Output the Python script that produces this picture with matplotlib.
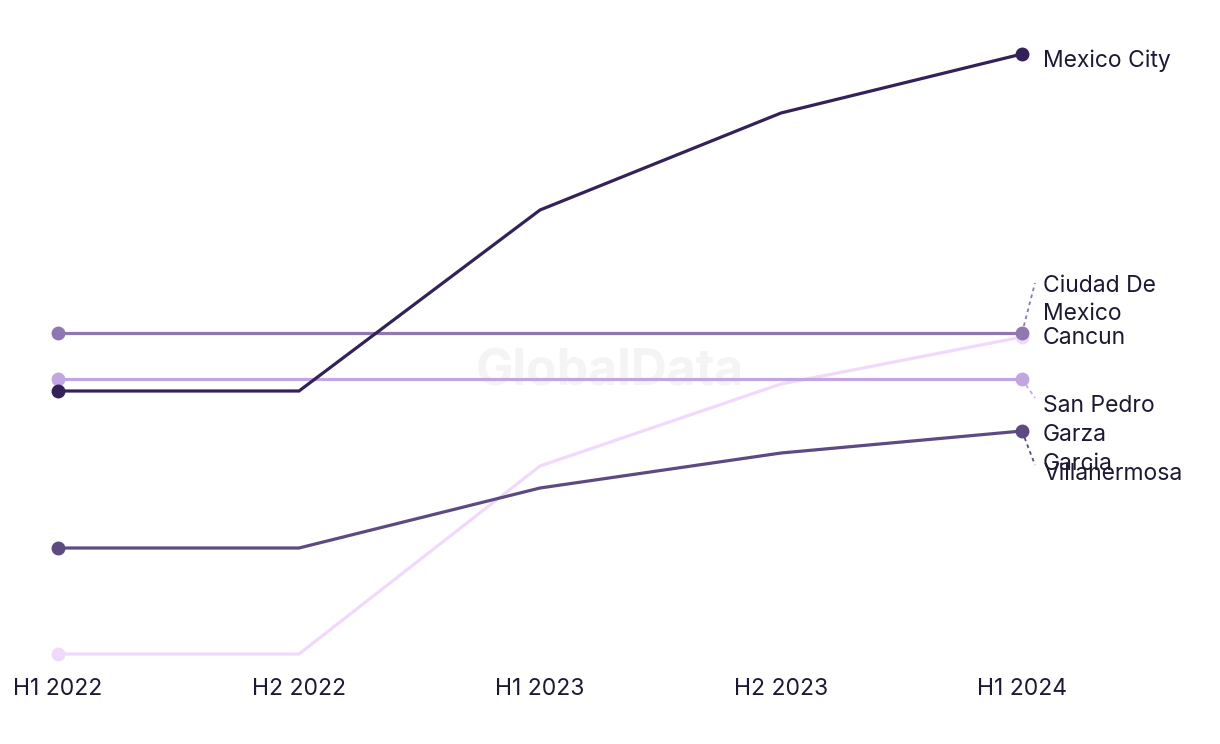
import matplotlib
matplotlib.use("Agg")
import matplotlib.pyplot as plt

periods = ["H1 2022", "H2 2022", "H1 2023", "H2 2023", "H1 2024"]
series_names = ["Ciudad De Mexico", "San Pedro Garza Garcia", "Villahermosa", "Cancun", "Mexico City"]
mexico_city = [30.9, 30.9, 49.0, 58.7, 64.6]
ciudad_de_mexico = [36.7, 36.7, 36.7, 36.7, 36.7]
san_pedro = [32.1, 32.1, 32.1, 32.1, 32.1]
villahermosa = [15.2, 15.2, 21.2, 24.7, 26.9]
cancun = [4.6, 4.6, 23.4, 31.6, 36.3]

values = {
    "Cancun": cancun,
    "Villahermosa": villahermosa,
    "San Pedro Garza Garcia": san_pedro,
    "Ciudad De Mexico": ciudad_de_mexico,
    "Mexico City": mexico_city,
}
colors = {
    "Mexico City": "#35215a",
    "Ciudad De Mexico": "#8f78b2",
    "San Pedro Garza Garcia": "#c2a6e2",
    "Villahermosa": "#5e4a82",
    "Cancun": "#f1d9fb",
}
labels = {
    "Mexico City": ("Mexico City", 61),
    "Ciudad De Mexico": ("Ciudad De\nMexico", 300),
    "Cancun": ("Cancun", 338),
    "San Pedro Garza Garcia": ("San Pedro\nGarza\nGarcia", 435),
    "Villahermosa": ("Villahermosa", 474),
}
leaders = {
    "Ciudad De Mexico": 283,
    "San Pedro Garza Garcia": 398,
    "Villahermosa": 465,
}

FONT = ["Inter", "DejaVu Sans"]
FS = 16.5
W, H = 1220, 744
fig = plt.figure(figsize=(W / 100, H / 100), dpi=100)
x0, dx = 58, 241
ax_left_px, ax_right_px = 0, W
ax_top_px, ax_bot_px = 44, 664
ax = fig.add_axes([ax_left_px / W, (H - ax_bot_px) / H, (ax_right_px - ax_left_px) / W, (ax_bot_px - ax_top_px) / H])
ax.set_xlim((ax_left_px - x0) / dx, (ax_right_px - x0) / dx)
ax.set_ylim((700 - ax_bot_px) / 10, (700 - ax_top_px) / 10)
for s in ax.spines.values():
    s.set_visible(False)
ax.set_yticks([])
xs = list(range(len(periods)))
ax.set_xticks(xs)
ax.set_xticklabels(periods, fontsize=FS, color="#1c1a33", family=FONT)
ax.tick_params(axis="x", length=0, pad=10)

ax.text(0.5, (H - 372) / H, "GlobalData", transform=fig.transFigure, ha="center", va="center",
        fontsize=36, fontweight="bold", color="#f4f4f4", family=FONT, zorder=0)

for name in ["Cancun", "Villahermosa", "San Pedro Garza Garcia", "Ciudad De Mexico", "Mexico City"]:
    v = values[name]
    ax.plot(xs, v, color=colors[name], lw=2.3, solid_joinstyle="miter", zorder=2)
    ax.plot([xs[0], xs[-1]], [v[0], v[-1]], "o", color=colors[name], ms=9, zorder=3)

def px_to_y(py):
    return (700 - py) / 10

lx = (1043 - x0) / dx
for name, (txt, py) in labels.items():
    ax.text(lx, px_to_y(py), txt, ha="left", va="center", fontsize=FS, color="#1c1a33",
            linespacing=1.4, family=FONT, clip_on=False)

for name, py in leaders.items():
    v = values[name][-1]
    ax.plot([xs[-1], (1035 - x0) / dx], [v, px_to_y(py)], ls=(0, (2, 2)), lw=1.3,
            color=colors[name], zorder=1, clip_on=False)

fig.savefig("out.png", dpi=100)
